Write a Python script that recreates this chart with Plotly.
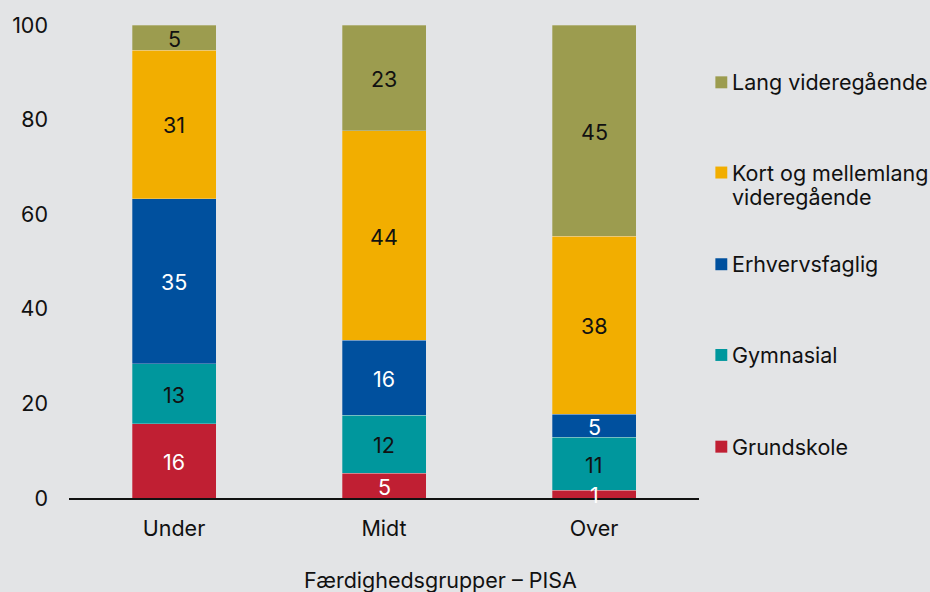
import plotly.graph_objects as go

categories = ["Under", "Midt", "Over"]
series_names = ["Grundskole", "Gymnasial", "Erhvervsfaglig",
                "Kort og mellemlang videregående", "Lang videregående"]
grundskole = [15.7, 5.2, 1.6]
gymnasial = [12.7, 12.3, 11.2]
erhvervsfaglig = [34.9, 15.8, 4.9]
kort_mellemlang = [31.4, 44.3, 37.6]
lang = [5.3, 22.4, 44.7]
labels = [
    [16, 5, 1],
    [13, 12, 11],
    [35, 16, 5],
    [31, 44, 38],
    [5, 23, 45],
]
# legend text lines per series (bottom-to-top order like series)
legend_lines = [
    ["Grundskole"],
    ["Gymnasial"],
    ["Erhvervsfaglig"],
    ["Kort og mellemlang", "videregående"],
    ["Lang videregående"],
]
colors = ["#C01F33", "#00979D", "#00509E", "#F2AE00", "#9C9C4F"]
text_colors = ["white", "#111111", "white", "#111111", "#111111"]
x_title = "Færdighedsgrupper – PISA"

FONT = "Inter"
FS = 21.5
values = [grundskole, gymnasial, erhvervsfaglig, kort_mellemlang, lang]

# plot-area geometry (pixels)
L, R, T, B = 64.5, 699.5, 24.0, 498.5
PW, PH = R - L, B - T


def px_x(p):
    return (p - L) / PW


def px_y(p):
    return (B - p) / PH


fig = go.Figure()
annotations = []
base = [0.0] * len(categories)
for i, (name, vals) in enumerate(zip(series_names, values)):
    fig.add_trace(go.Bar(
        x=categories, y=vals, name=name,
        marker=dict(color=colors[i], line=dict(width=0.6, color="rgba(227,228,230,0.5)")),
        showlegend=False,
        hoverinfo="skip",
    ))
    # value labels centred in each segment
    for c, b, v, lab in zip(categories, base, vals, labels[i]):
        annotations.append(dict(
            x=c, y=b + v / 2, xref="x", yref="y", text=str(lab),
            showarrow=False, xanchor="center", yanchor="middle", yshift=-1,
            font=dict(family=FONT, size=FS, color=text_colors[i]),
        ))
    base = [b + v for b, v in zip(base, vals)]

# manual legend (top item first, ~91 px apart)
legend_centers = [447, 355, 264, 172, 81.5]
shapes = []
for i, lines in enumerate(legend_lines):
    cy = legend_centers[i]
    shapes.append(dict(
        type="rect", xref="paper", yref="paper",
        x0=px_x(716), x1=px_x(728), y0=px_y(cy + 6), y1=px_y(cy - 6),
        fillcolor=colors[i], line=dict(width=0), layer="above",
    ))
    for j, line in enumerate(lines):
        annotations.append(dict(
            text=line, xref="paper", yref="paper",
            x=px_x(731), y=px_y(cy + 24.5 * j), xanchor="left", yanchor="middle",
            showarrow=False, font=dict(family=FONT, size=FS, color="#111111"),
        ))

annotations.append(dict(
    text=x_title, xref="paper", yref="paper",
    x=px_x(439), y=px_y(580.5), xanchor="center", yanchor="middle",
    showarrow=False, font=dict(family=FONT, size=FS, color="#111111"),
))

bg = "#E3E4E6"
fig.update_layout(
    barmode="stack",
    bargap=0.6,
    width=930, height=592,
    autosize=False,
    paper_bgcolor=bg, plot_bgcolor=bg,
    margin=dict(l=L, r=930 - R, t=T, b=592 - B),
    font=dict(family=FONT, size=FS, color="#111111"),
    showlegend=False,
    xaxis=dict(
        range=[-0.5, 2.5],
        showline=True, linecolor="#111111", linewidth=2,
        showgrid=False, ticks="", zeroline=False,
        ticklabelstandoff=10,
        tickfont=dict(family=FONT, size=FS, color="#111111"),
    ),
    yaxis=dict(
        range=[0, 100], tickvals=[0, 20, 40, 60, 80, 100],
        showgrid=False, zeroline=False, showline=False, ticks="",
        ticklabelstandoff=20,
        tickfont=dict(family=FONT, size=FS, color="#111111"),
    ),
    shapes=shapes,
    annotations=annotations,
)

fig.write_html(
    "out.html",
    config={"displayModeBar": False},
    post_script="document.body.style.margin='0';"
                "var gd=document.getElementById('{plot_id}');"
                "Plotly.relayout(gd,{width:930,height:592});",
)
